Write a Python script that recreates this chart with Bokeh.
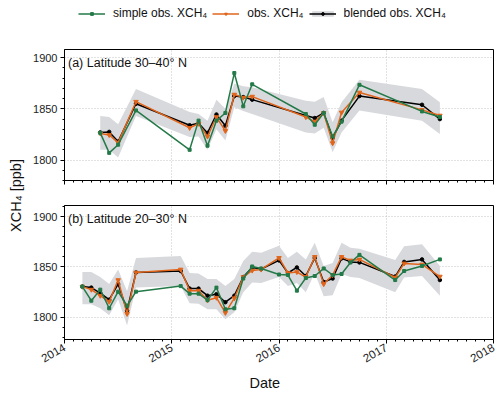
import math
from bokeh.plotting import figure
from bokeh.layouts import column, row
from bokeh.models import Range1d, FixedTicker, Legend, LegendItem, Label, Title
from bokeh.embed import file_html
from bokeh.resources import INLINE

FONT = "Liberation Sans"
GREEN = "#237a48"
ORANGE = "#e0651b"
BAND = "#d8d9dd"

# ---- data (month index counted from Jan 2014) ----
months_a = [4, 5, 6, 8, 14, 15, 16, 17, 18, 19, 20, 21, 27, 28, 29, 30, 31, 33, 40, 42]
simple_a = [1826.5, 1807, 1815, 1848.5, 1810, 1838.5, 1814, 1838.5, 1846, 1885, 1852.5, 1874,
            1845, 1834.5, 1846, 1823, 1837.5, 1873.5, 1847.5, 1842]
obs_a = [1826, 1824.5, 1817, 1857, 1831.5, 1835.5, 1823, 1842, 1828.5, 1864, 1861, 1862,
         1842, 1837.5, 1846, 1816.5, 1846.5, 1866, 1849, 1843.5]
blended_a = [1827, 1827.5, 1818, 1855, 1834, 1836, 1826.5, 1844.5, 1833.5, 1862.5, 1861.5, 1859,
             1843.5, 1841, 1846, 1821.5, 1838.5, 1862.5, 1854, 1840]
band_lo_a = [1810, 1810, 1802.5, 1843, 1822.5, 1823, 1810, 1830, 1819, 1851.5, 1848, 1845,
             1827, 1826, 1831.5, 1807.5, 1827, 1848.5, 1838.5, 1825.5]
band_hi_a = [1843, 1842, 1835, 1869.5, 1847, 1845, 1838.5, 1859, 1850, 1874.5, 1872, 1871,
             1858, 1857, 1861.5, 1837, 1856.5, 1878.5, 1869.5, 1856.5]

months_b = [2, 3, 4, 5, 6, 7, 8, 13, 14, 15, 16, 17, 18, 19, 20, 21, 22, 24, 25, 26, 27, 28,
            29, 30, 31, 32, 33, 37, 38, 40, 42]
simple_b = [1830.5, 1816.5, 1827.5, 1809, 1825.5, 1811.5, 1825.5, 1831, 1823.5, 1823.5, 1817,
            1829.5, 1808, 1809, 1838.5, 1850.5, 1848.5, 1842.5, 1842, 1826.5, 1839, 1841,
            1848.5, 1842, 1843, 1854.5, 1862, 1837, 1846, 1851, 1857.5]
obs_b = [1830.5, 1827.5, 1821.5, 1815.5, 1837, 1803.5, 1844.5, 1847.5, 1826.5, 1826.5, 1817,
         1819.5, 1804.5, 1819, 1840, 1846.5, 1847.5, 1859, 1844, 1845, 1840, 1860, 1833, 1842,
         1860, 1856.5, 1857.5, 1839.5, 1853.5, 1852.5, 1840.5]
blended_b = [1830.5, 1829.5, 1824, 1817.5, 1833, 1806.5, 1844.5, 1846, 1828.5, 1828.5, 1821.5,
             1823, 1815, 1821.5, 1840, 1849.5, 1848, 1856.5, 1844, 1849.5, 1841, 1859, 1835,
             1838.5, 1858.5, 1855, 1854.5, 1840.5, 1855, 1857.5, 1837]
band_lo_b = [1813, 1813, 1809, 1802, 1818, 1792, 1829.5, 1831, 1814, 1813.5, 1808, 1808, 1798,
             1805, 1825, 1834.5, 1834, 1840, 1831, 1834, 1825, 1844, 1821, 1822, 1843, 1840,
             1839, 1825, 1839.5, 1841, 1821.5]
band_hi_b = [1845, 1845, 1840, 1833, 1847.5, 1826, 1859, 1861, 1844, 1843.5, 1838, 1838, 1831,
             1838, 1856, 1865, 1864, 1871, 1859, 1865, 1857.5, 1874, 1851, 1854, 1874, 1869,
             1868, 1857, 1870.5, 1872.5, 1851]

year_ticks = [2014, 2015, 2016, 2017, 2018]
month_ticks = [2014 + m / 12 for m in range(49)]
y_major = [1800, 1850, 1900]
y_minor = list(range(1780, 1920, 10))

panel_titles = ["(a)  Latitude 30\u201340\u00b0 N", "(b)  Latitude 20\u201330\u00b0 N"]
series_labels = ["simple obs. XCH\u2084", "obs. XCH\u2084", "blended obs. XCH\u2084"]


def to_year(months):
    return [2014 + k / 12 for k in months]


def style_axes(p):
    p.outline_line_color = "black"
    p.outline_line_alpha = 1
    p.outline_line_width = 1
    for ax in p.axis:
        ax.axis_line_color = "black"
        ax.major_tick_line_color = "black"
        ax.minor_tick_line_color = "black"
        ax.major_tick_out = 4
        ax.major_tick_in = 0
        ax.minor_tick_out = 2
        ax.minor_tick_in = 0
        ax.major_label_text_font = FONT
        ax.major_label_text_font_size = "11px"
        ax.major_label_text_color = "#222222"
        ax.major_label_standoff = 3
    p.xaxis.ticker = FixedTicker(ticks=year_ticks, minor_ticks=month_ticks)
    p.yaxis.ticker = FixedTicker(ticks=y_major, minor_ticks=y_minor)
    p.grid.grid_line_color = "#b5b5b5"
    p.grid.grid_line_dash = "1 2"
    p.grid.grid_line_width = 0.8


def draw_series(p, x, simple, obs, blended, lo, hi):
    band = p.varea(x=x, y1=lo, y2=hi, fill_color=BAND, fill_alpha=1)
    bl = p.line(x, blended, line_color="black", line_width=1.5)
    bs = p.scatter(x, blended, marker="circle", size=3.5, fill_color="black", line_color="black")
    ol = p.line(x, obs, line_color=ORANGE, line_width=1.5)
    os_ = p.scatter(x, obs, marker="inverted_triangle", size=4.5, fill_color=ORANGE, line_color=ORANGE)
    gl = p.line(x, simple, line_color=GREEN, line_width=1.5)
    gs = p.scatter(x, simple, marker="square", size=3, fill_color=GREEN, line_color=GREEN)
    return dict(band=band, bl=bl, bs=bs, ol=ol, os=os_, gl=gl, gs=gs)


def make_panel(height, top, bottom, ylo, yhi, months, simple, obs, blended, lo, hi, title):
    p = figure(width=472, height=height, x_range=Range1d(2014, 2018), y_range=Range1d(ylo, yhi),
               output_backend="svg", toolbar_location=None,
               min_border_left=36, min_border_right=7, min_border_top=top, min_border_bottom=bottom)
    draw_series(p, to_year(months), simple, obs, blended, lo, hi)
    style_axes(p)
    p.add_layout(Label(x=3.5, y=height - top - bottom - 13, x_units="screen", y_units="screen",
                       text=title, text_font=FONT, text_font_size="12.5px",
                       text_baseline="middle", text_align="left", text_color="#111111"))
    return p


pa = make_panel(170, 27, 12, 1780, 1908, months_a, simple_a, obs_a, blended_a,
                band_lo_a, band_hi_a, panel_titles[0])
pb = make_panel(205, 13, 58, 1778, 1911, months_b, simple_b, obs_b, blended_b,
                band_lo_b, band_hi_b, panel_titles[1])

pa.xaxis.major_label_text_font_size = "0px"
pa.xaxis.major_label_text_color = None
pa.xaxis.major_label_standoff = 0

pb.xaxis.major_label_orientation = math.pi / 6
pb.xaxis.major_label_text_font_size = "11.5px"
pb.add_layout(Title(text="Date", align="left", offset=185, text_font=FONT,
                    text_font_size="14.5px", text_font_style="normal",
                    text_color="#111111", standoff=6), "below")

# legend strip across the top: series drawn outside its visible range, only legend glyphs show
lf = figure(width=500, height=22, x_range=Range1d(0, 1), y_range=Range1d(0, 1),
            x_axis_type=None, y_axis_type=None, output_backend="svg", toolbar_location=None,
            min_border=0, outline_line_color=None)
lf.grid.visible = False
lr = draw_series(lf, to_year(months_a), simple_a, obs_a, blended_a, band_lo_a, band_hi_a)
legend = Legend(items=[
    LegendItem(label=series_labels[0], renderers=[lr["gl"], lr["gs"]]),
    LegendItem(label=series_labels[1], renderers=[lr["ol"], lr["os"]]),
    LegendItem(label=series_labels[2], renderers=[lr["band"], lr["bl"], lr["bs"]]),
], orientation="horizontal", location=(78, 2), border_line_color=None,
    background_fill_alpha=0, label_text_font=FONT, label_text_font_size="12px",
    label_text_color="#111111", glyph_width=27, glyph_height=7, label_standoff=8,
    spacing=5, padding=0, margin=0)
lf.add_layout(legend, "center")

ylab = figure(width=28, height=375, x_range=Range1d(0, 1), y_range=Range1d(0, 1),
              x_axis_type=None, y_axis_type=None, output_backend="svg", toolbar_location=None,
              min_border=0, outline_line_color=None)
ylab.grid.visible = False
ylab.add_layout(Label(x=15, y=202, x_units="screen", y_units="screen", text="XCH\u2084 [ppb]",
                      angle=math.pi / 2, text_align="center", text_baseline="middle",
                      text_font=FONT, text_font_size="14.5px", text_color="#111111"))

layout = column(lf, row(ylab, column(pa, pb)))

with open("out.html", "w") as f:
    f.write(file_html(layout, INLINE))
